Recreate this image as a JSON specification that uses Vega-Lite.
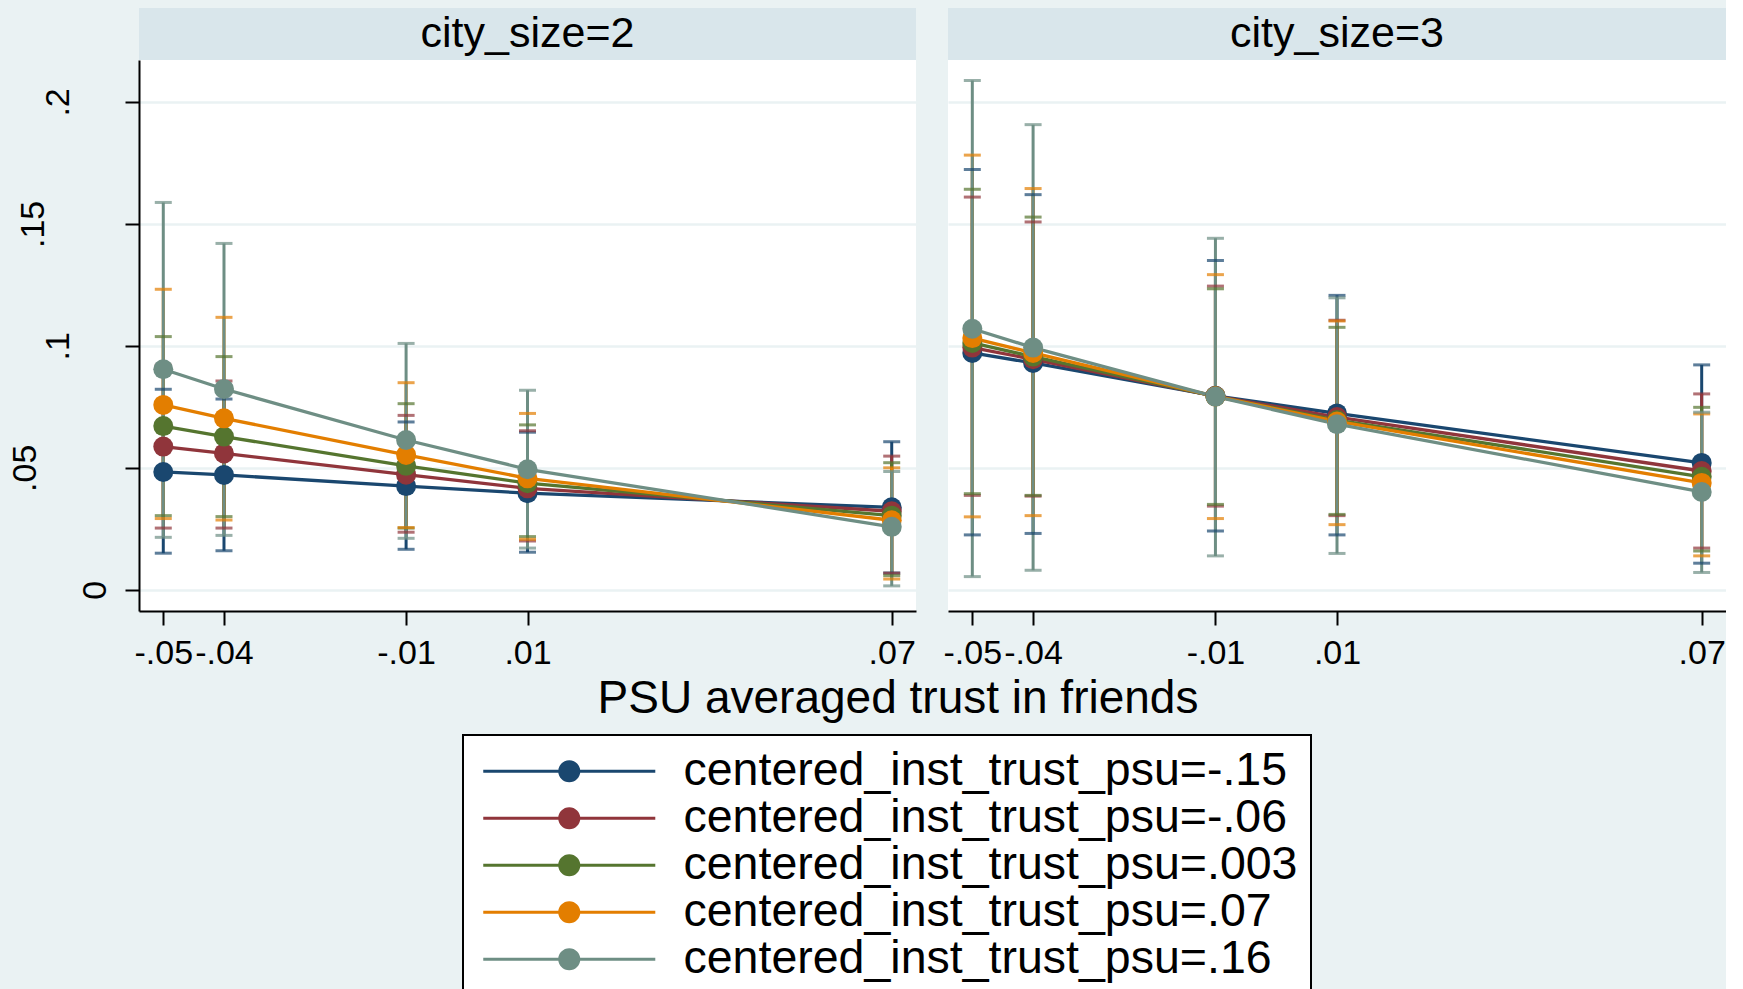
{
  "$schema": "https://vega.github.io/schema/vega-lite/v6.json",
  "background": "#eaf2f3",
  "padding": {"left": 8, "top": 8, "right": 0, "bottom": 0},
  "config": {
    "font": "Liberation Sans",
    "view": {"stroke": null}
  },
  "datasets": {
    "strips": [
      {"city": 2, "label": "city_size=2"},
      {"city": 3, "label": "city_size=3"}
    ],
    "xtitle": [{"t": "PSU averaged trust in friends"}],
    "margins": [
      {"city": 2, "trust": "centered_inst_trust_psu=-.15", "x": -0.05, "est": 0.0483, "lo": 0.0150, "hi": 0.0822},
      {"city": 2, "trust": "centered_inst_trust_psu=-.15", "x": -0.04, "est": 0.0471, "lo": 0.0160, "hi": 0.0782},
      {"city": 2, "trust": "centered_inst_trust_psu=-.15", "x": -0.01, "est": 0.0425, "lo": 0.0166, "hi": 0.0688},
      {"city": 2, "trust": "centered_inst_trust_psu=-.15", "x": 0.01, "est": 0.0396, "lo": 0.0154, "hi": 0.0646},
      {"city": 2, "trust": "centered_inst_trust_psu=-.15", "x": 0.07, "est": 0.0338, "lo": 0.0069, "hi": 0.0607},
      {"city": 2, "trust": "centered_inst_trust_psu=-.06", "x": -0.05, "est": 0.0587, "lo": 0.0253, "hi": 0.0921},
      {"city": 2, "trust": "centered_inst_trust_psu=-.06", "x": -0.04, "est": 0.0559, "lo": 0.0253, "hi": 0.0856},
      {"city": 2, "trust": "centered_inst_trust_psu=-.06", "x": -0.01, "est": 0.0472, "lo": 0.0236, "hi": 0.0715},
      {"city": 2, "trust": "centered_inst_trust_psu=-.06", "x": 0.01, "est": 0.0416, "lo": 0.0200, "hi": 0.0652},
      {"city": 2, "trust": "centered_inst_trust_psu=-.06", "x": 0.07, "est": 0.0322, "lo": 0.0068, "hi": 0.0548},
      {"city": 2, "trust": "centered_inst_trust_psu=.003", "x": -0.05, "est": 0.0671, "lo": 0.0304, "hi": 0.1038},
      {"city": 2, "trust": "centered_inst_trust_psu=.003", "x": -0.04, "est": 0.0628, "lo": 0.0300, "hi": 0.0956},
      {"city": 2, "trust": "centered_inst_trust_psu=.003", "x": -0.01, "est": 0.0508, "lo": 0.0253, "hi": 0.0763},
      {"city": 2, "trust": "centered_inst_trust_psu=.003", "x": 0.01, "est": 0.0437, "lo": 0.0218, "hi": 0.0676},
      {"city": 2, "trust": "centered_inst_trust_psu=.003", "x": 0.07, "est": 0.0304, "lo": 0.0058, "hi": 0.0521},
      {"city": 2, "trust": "centered_inst_trust_psu=.07", "x": -0.05, "est": 0.0758, "lo": 0.0292, "hi": 0.1232},
      {"city": 2, "trust": "centered_inst_trust_psu=.07", "x": -0.04, "est": 0.0703, "lo": 0.0286, "hi": 0.1117},
      {"city": 2, "trust": "centered_inst_trust_psu=.07", "x": -0.01, "est": 0.0553, "lo": 0.0255, "hi": 0.0849},
      {"city": 2, "trust": "centered_inst_trust_psu=.07", "x": 0.01, "est": 0.0457, "lo": 0.0207, "hi": 0.0723},
      {"city": 2, "trust": "centered_inst_trust_psu=.07", "x": 0.07, "est": 0.0285, "lo": 0.0044, "hi": 0.0500},
      {"city": 2, "trust": "centered_inst_trust_psu=.16", "x": -0.05, "est": 0.0904, "lo": 0.0215, "hi": 0.1588},
      {"city": 2, "trust": "centered_inst_trust_psu=.16", "x": -0.04, "est": 0.0823, "lo": 0.0223, "hi": 0.1420},
      {"city": 2, "trust": "centered_inst_trust_psu=.16", "x": -0.01, "est": 0.0614, "lo": 0.0211, "hi": 0.1010},
      {"city": 2, "trust": "centered_inst_trust_psu=.16", "x": 0.01, "est": 0.0494, "lo": 0.0171, "hi": 0.0818},
      {"city": 2, "trust": "centered_inst_trust_psu=.16", "x": 0.07, "est": 0.0258, "lo": 0.0016, "hi": 0.0485},
      {"city": 3, "trust": "centered_inst_trust_psu=-.15", "x": -0.05, "est": 0.0971, "lo": 0.0225, "hi": 0.1723},
      {"city": 3, "trust": "centered_inst_trust_psu=-.15", "x": -0.04, "est": 0.0930, "lo": 0.0231, "hi": 0.1620},
      {"city": 3, "trust": "centered_inst_trust_psu=-.15", "x": -0.01, "est": 0.0795, "lo": 0.0241, "hi": 0.1350},
      {"city": 3, "trust": "centered_inst_trust_psu=-.15", "x": 0.01, "est": 0.0723, "lo": 0.0225, "hi": 0.1207},
      {"city": 3, "trust": "centered_inst_trust_psu=-.15", "x": 0.07, "est": 0.0520, "lo": 0.0109, "hi": 0.0922},
      {"city": 3, "trust": "centered_inst_trust_psu=-.06", "x": -0.05, "est": 0.0993, "lo": 0.0387, "hi": 0.1610},
      {"city": 3, "trust": "centered_inst_trust_psu=-.06", "x": -0.04, "est": 0.0945, "lo": 0.0384, "hi": 0.1508},
      {"city": 3, "trust": "centered_inst_trust_psu=-.06", "x": -0.01, "est": 0.0794, "lo": 0.0343, "hi": 0.1245},
      {"city": 3, "trust": "centered_inst_trust_psu=-.06", "x": 0.01, "est": 0.0708, "lo": 0.0304, "hi": 0.1105},
      {"city": 3, "trust": "centered_inst_trust_psu=-.06", "x": 0.07, "est": 0.0487, "lo": 0.0171, "hi": 0.0803},
      {"city": 3, "trust": "centered_inst_trust_psu=.003", "x": -0.05, "est": 0.1012, "lo": 0.0394, "hi": 0.1642},
      {"city": 3, "trust": "centered_inst_trust_psu=.003", "x": -0.04, "est": 0.0956, "lo": 0.0387, "hi": 0.1528},
      {"city": 3, "trust": "centered_inst_trust_psu=.003", "x": -0.01, "est": 0.0793, "lo": 0.0350, "hi": 0.1234},
      {"city": 3, "trust": "centered_inst_trust_psu=.003", "x": 0.01, "est": 0.0696, "lo": 0.0309, "hi": 0.1076},
      {"city": 3, "trust": "centered_inst_trust_psu=.003", "x": 0.07, "est": 0.0463, "lo": 0.0159, "hi": 0.0748},
      {"city": 3, "trust": "centered_inst_trust_psu=.07", "x": -0.05, "est": 0.1032, "lo": 0.0299, "hi": 0.1782},
      {"city": 3, "trust": "centered_inst_trust_psu=.07", "x": -0.04, "est": 0.0971, "lo": 0.0304, "hi": 0.1645},
      {"city": 3, "trust": "centered_inst_trust_psu=.07", "x": -0.01, "est": 0.0793, "lo": 0.0292, "hi": 0.1292},
      {"city": 3, "trust": "centered_inst_trust_psu=.07", "x": 0.01, "est": 0.0690, "lo": 0.0267, "hi": 0.1102},
      {"city": 3, "trust": "centered_inst_trust_psu=.07", "x": 0.07, "est": 0.0438, "lo": 0.0139, "hi": 0.0721},
      {"city": 3, "trust": "centered_inst_trust_psu=.16", "x": -0.05, "est": 0.1070, "lo": 0.0054, "hi": 0.2088},
      {"city": 3, "trust": "centered_inst_trust_psu=.16", "x": -0.04, "est": 0.0993, "lo": 0.0080, "hi": 0.1907},
      {"city": 3, "trust": "centered_inst_trust_psu=.16", "x": -0.01, "est": 0.0792, "lo": 0.0139, "hi": 0.1441},
      {"city": 3, "trust": "centered_inst_trust_psu=.16", "x": 0.01, "est": 0.0679, "lo": 0.0149, "hi": 0.1197},
      {"city": 3, "trust": "centered_inst_trust_psu=.16", "x": 0.07, "est": 0.0401, "lo": 0.0071, "hi": 0.0728}
    ]
  },
  "spacing": 0,
  "resolve": {"scale": {"color": "shared"}, "legend": {"color": "shared"}},
  "vconcat": [
    {
      "spacing": 27,
      "resolve": {"scale": {"color": "shared"}, "legend": {"color": "shared"}},
      "hconcat": [
        {
          "bounds": "flush",
          "spacing": 0,
          "vconcat": [
            {
              "data": {"name": "strips"},
              "transform": [{"filter": "datum.city == 2"}],
              "width": 777,
              "height": 52,
              "view": {"fill": "#d9e6eb", "stroke": null},
              "mark": {"type": "text", "fontSize": 43, "color": "black", "font": "Liberation Sans"},
              "encoding": {"text": {"field": "label", "type": "nominal"}}
            },
            {
              "data": {"name": "margins"},
              "transform": [{"filter": "datum.city == 2"}],
              "width": 777,
              "height": 551,
              "view": {"fill": "white", "stroke": null},
              "encoding": {
                "x": {
                  "field": "x", "type": "quantitative",
                  "scale": {"domain": [-0.054, 0.074], "nice": false, "zero": false},
                  "axis": {
                    "values": [-0.05, -0.04, -0.01, 0.01, 0.07],
                    "labelExpr": "replace('' + datum.value, '0.', '.')",
                    "labelFontSize": 34, "labelColor": "black", "labelPadding": 11,
                    "labelOverlap": false, "labelFlush": false,
                    "tickSize": 14, "tickWidth": 2, "tickColor": "black",
                    "domainColor": "black", "domainWidth": 2, "grid": false,
                    "title": null
                  }
                },
                "color": {
                  "field": "trust", "type": "nominal",
                  "scale": {
                    "domain": ["centered_inst_trust_psu=-.15", "centered_inst_trust_psu=-.06", "centered_inst_trust_psu=.003", "centered_inst_trust_psu=.07", "centered_inst_trust_psu=.16"],
                    "range": ["#1a476f", "#90353b", "#55752f", "#e37e00", "#6e8e84"]
                  },
                  "legend": {
                    "title": null, "orient": "none", "legendX": 324, "legendY": 727,
                    "direction": "vertical",
                    "symbolType": "M-1,-0.07L6.48,-0.07L6.48,0.07L-1,0.07Z M2.26,0A0.48,0.48 0 1,1 3.22,0A0.48,0.48 0 1,1 2.26,0Z",
                    "symbolSize": 2116, "symbolStrokeWidth": 0, "symbolOffset": 7,
                    "labelFontSize": 46.5, "labelColor": "black", "labelFont": "Liberation Sans",
                    "labelOffset": 154, "labelLimit": 2000, "rowPadding": 0, "padding": 13,
                    "fillColor": "white", "strokeColor": "black",
                    "encode": {
                      "symbols": {"update": {
                        "fill": {"scale": "color", "field": "value"},
                        "stroke": {"value": "transparent"},
                        "size": {"value": 2116},
                        "shape": {"value": "M-1,-0.07L6.48,-0.07L6.48,0.07L-1,0.07Z M2.26,0A0.48,0.48 0 1,1 3.22,0A0.48,0.48 0 1,1 2.26,0Z"},
                        "opacity": {"value": 1}
                      }},
                      "legend": {"update": {"strokeWidth": {"value": 2}}}
                    }
                  }
                }
              },
              "layer": [
                {
                  "mark": {"type": "rule", "strokeWidth": 3},
                  "encoding": {
                    "y": {
                      "field": "lo", "type": "quantitative", "title": null,
                      "scale": {"domain": [-0.0087, 0.2172], "nice": false, "zero": false},
                      "axis": {
                        "values": [0, 0.05, 0.1, 0.15, 0.2],
                        "labelExpr": "replace('' + datum.value, '0.', '.')",
                        "labelAngle": -90, "labelAlign": "center", "labelBaseline": "middle",
                        "labelFontSize": 34, "labelColor": "black",
                        "labelPadding": {
                          "condition": [
                            {"test": "datum.value === 0", "value": 30},
                            {"test": "datum.value === 0.05", "value": 100},
                            {"test": "datum.value === 0.15", "value": 92}
                          ],
                          "value": 67
                        },
                        "tickSize": 14, "tickWidth": 2, "tickColor": "black",
                        "domainColor": "black", "domainWidth": 2,
                        "grid": true, "gridColor": "#eaf2f3", "gridWidth": 2.5, "title": null
                      }
                    },
                    "y2": {"field": "hi"}
                  }
                },
                {
                  "mark": {"type": "tick", "orient": "horizontal", "size": 17, "thickness": 3},
                  "encoding": {"y": {"field": "lo", "type": "quantitative", "title": null}}
                },
                {
                  "mark": {"type": "tick", "orient": "horizontal", "size": 17, "thickness": 3},
                  "encoding": {"y": {"field": "hi", "type": "quantitative", "title": null}}
                },
                {
                  "mark": {"type": "line", "strokeWidth": 3.3},
                  "encoding": {"y": {"field": "est", "type": "quantitative", "title": null}}
                },
                {
                  "mark": {"type": "point", "filled": true, "size": 400, "opacity": 1},
                  "encoding": {"y": {"field": "est", "type": "quantitative", "title": null}}
                }
              ]
            }
          ]
        },
        {
          "bounds": "flush",
          "spacing": 0,
          "vconcat": [
            {
              "data": {"name": "strips"},
              "transform": [{"filter": "datum.city == 3"}],
              "width": 778,
              "height": 52,
              "view": {"fill": "#d9e6eb", "stroke": null},
              "mark": {"type": "text", "fontSize": 43, "color": "black", "font": "Liberation Sans"},
              "encoding": {"text": {"field": "label", "type": "nominal"}}
            },
            {
              "data": {"name": "margins"},
              "transform": [{"filter": "datum.city == 3"}],
              "width": 778,
              "height": 551,
              "view": {"fill": "white", "stroke": null},
              "encoding": {
                "x": {
                  "field": "x", "type": "quantitative",
                  "scale": {"domain": [-0.054, 0.074], "nice": false, "zero": false},
                  "axis": {
                    "values": [-0.05, -0.04, -0.01, 0.01, 0.07],
                    "labelExpr": "replace('' + datum.value, '0.', '.')",
                    "labelFontSize": 34, "labelColor": "black", "labelPadding": 11,
                    "labelOverlap": false, "labelFlush": false,
                    "tickSize": 14, "tickWidth": 2, "tickColor": "black",
                    "domainColor": "black", "domainWidth": 2, "grid": false,
                    "title": null
                  }
                },
                "color": {
                  "field": "trust", "type": "nominal",
                  "scale": {
                    "domain": ["centered_inst_trust_psu=-.15", "centered_inst_trust_psu=-.06", "centered_inst_trust_psu=.003", "centered_inst_trust_psu=.07", "centered_inst_trust_psu=.16"],
                    "range": ["#1a476f", "#90353b", "#55752f", "#e37e00", "#6e8e84"]
                  }
                }
              },
              "layer": [
                {
                  "mark": {"type": "rule", "strokeWidth": 3},
                  "encoding": {
                    "y": {
                      "field": "lo", "type": "quantitative", "title": null,
                      "scale": {"domain": [-0.0087, 0.2172], "nice": false, "zero": false},
                      "axis": {
                        "values": [0, 0.05, 0.1, 0.15, 0.2],
                        "domain": false, "ticks": false, "labels": false,
                        "grid": true, "gridColor": "#eaf2f3", "gridWidth": 2.5, "title": null
                      }
                    },
                    "y2": {"field": "hi"}
                  }
                },
                {
                  "mark": {"type": "tick", "orient": "horizontal", "size": 17, "thickness": 3},
                  "encoding": {"y": {"field": "lo", "type": "quantitative", "title": null}}
                },
                {
                  "mark": {"type": "tick", "orient": "horizontal", "size": 17, "thickness": 3},
                  "encoding": {"y": {"field": "hi", "type": "quantitative", "title": null}}
                },
                {
                  "mark": {"type": "line", "strokeWidth": 3.3},
                  "encoding": {"y": {"field": "est", "type": "quantitative", "title": null}}
                },
                {
                  "mark": {"type": "point", "filled": true, "size": 400, "opacity": 1},
                  "encoding": {"y": {"field": "est", "type": "quantitative", "title": null}}
                }
              ]
            }
          ]
        }
      ]
    },
    {
      "data": {"name": "xtitle"},
      "width": 1518,
      "height": 58,
      "mark": {"type": "text", "fontSize": 46, "color": "black", "font": "Liberation Sans"},
      "encoding": {"text": {"field": "t", "type": "nominal"}}
    }
  ]
}
